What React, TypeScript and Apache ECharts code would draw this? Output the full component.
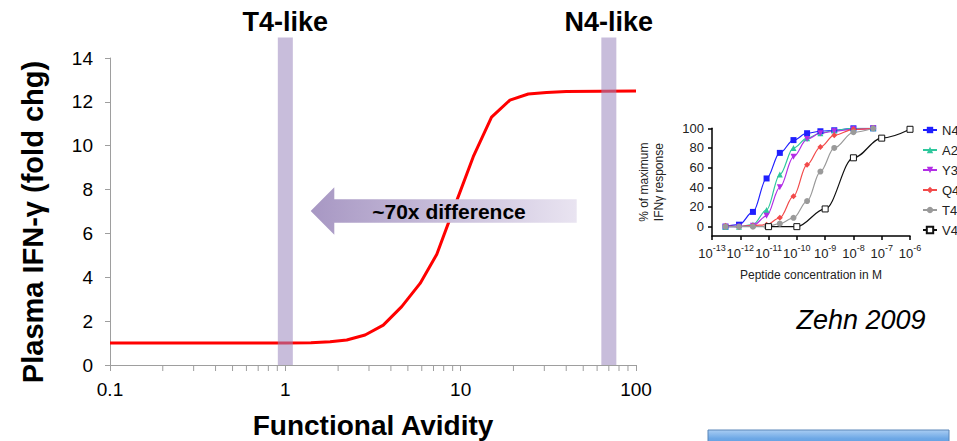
import React, { useEffect, useRef } from 'react';
import * as echarts from 'echarts';

// ---- Main chart data ----
const avidity = [0.1, 1, 1.4, 1.8, 2.24, 2.85, 3.62, 4.61, 5.87, 7.31, 9.2, 11.8, 15.0, 19.1, 24.3, 30.9, 40, 100];
const ifnFold = [1.0, 1.0, 1.02, 1.06, 1.14, 1.37, 1.82, 2.66, 3.72, 5.05, 7.2, 9.5, 11.3, 12.08, 12.36, 12.43, 12.47, 12.5];
const avidityTickLabels = ['0.1', '1', '10', '100'];
const minorAvidityTicks = [0.2, 0.3, 0.4, 0.5, 0.6, 0.7, 0.8, 0.9, 2, 3, 4, 5, 6, 7, 8, 9, 20, 30, 40, 50, 60, 70, 80, 90];
const bandCenters = [1, 70];
const bandLabels = ['T4-like', 'N4-like'];
const arrowLabel = '~70x difference';

// ---- Inset (Zehn 2009) data ----
const peptideConc = [3e-13, 9e-13, 2.8e-12, 8.5e-12, 2.5e-11, 7.6e-11, 2.3e-10, 6.8e-10, 2.1e-9, 1e-8, 5e-8];
const n4 = [0, 2, 15, 49, 75, 88, 95, 97, 98, 100, 100];
const a2 = [0, 0, 2, 17, 53, 80, 90, 95, 98, 100, 100];
const y3 = [0, 0, 1, 11, 40, 71, 89, 95, 97, 99, 100];
const q4 = [1, 0, 1, 2, 9, 31, 63, 81, 93, 99, 100];
const t4 = [0, 0, 0, 0, 3, 9, 26, 56, 80, 96, 100];
const v4Conc = [1e-11, 1e-10, 1e-9, 1e-8, 1e-7, 1e-6];
const v4 = [0, 0, 18, 70, 90, 99];
const insetYTicks = [0, 20, 40, 60, 80, 100];
const peptideNames = ['N4', 'A2', 'Y3', 'Q4', 'T4', 'V4'];

const FONT = "'Liberation Sans', Arial, Helvetica, sans-serif";

function zip(xs: number[], ys: number[]) {
  return xs.map((x, i) => [x, ys[i]]);
}

export default function App() {
  const ref = useRef<HTMLDivElement>(null);
  useEffect(() => {
    if (!ref.current) return;
    const chart = echarts.init(ref.current, null, { renderer: 'svg' });

    const insetSeries = (name: string, xs: number[], ys: number[], color: string, symbol: string, extra: any = {}) => ({
      name,
      type: 'line',
      xAxisIndex: 1,
      yAxisIndex: 1,
      data: zip(xs, ys),
      smooth: 0.35,
      smoothMonotone: 'x',
      symbol,
      symbolSize: 6,
      color,
      lineStyle: { color: extra.lineColor || color, width: 1.2 },
      itemStyle: extra.itemStyle || { color },
      symbolRotate: extra.symbolRotate || 0,
      z: 3,
    });

    const option: any = {
      animation: false,
      textStyle: { fontFamily: FONT },
      grid: [
        { left: 110, top: 58, width: 526, height: 307 },
        { left: 712, top: 128.3, width: 198, height: 107.7 },
      ],
      xAxis: [
        {
          type: 'log', logBase: 10, min: 0.1, max: 100, gridIndex: 0,
          axisLine: { onZero: false, lineStyle: { color: '#9e9e9e', width: 1 } },
          axisTick: { show: true, length: 6, lineStyle: { color: '#9e9e9e' } },
          axisLabel: {
            fontSize: 19, color: '#000', margin: 15, fontFamily: FONT,
            formatter: (v: number) => avidityTickLabels[Math.round(Math.log10(v)) + 1] ?? '',
          },
          splitLine: { show: false },
        },
        {
          type: 'log', logBase: 10, min: 1e-13, max: 1e-6, gridIndex: 1,
          axisLine: { onZero: false, lineStyle: { color: '#000', width: 1.5 } },
          axisTick: { show: true, length: 4, lineStyle: { color: '#000', width: 1.5 } },
          axisLabel: {
            margin: 7,
            formatter: (v: number) => `{b|10}{s|${Math.round(Math.log10(v))}}`,
            rich: {
              b: { fontSize: 13, color: '#222', lineHeight: 17, verticalAlign: 'bottom', fontFamily: FONT },
              s: { fontSize: 9, color: '#222', lineHeight: 10, verticalAlign: 'top', fontFamily: FONT },
            },
          },
          splitLine: { show: false },
          name: 'Peptide concentration in M',
          nameLocation: 'middle',
          nameGap: 33,
          nameTextStyle: { fontSize: 12, color: '#222', fontFamily: FONT },
        },
      ],
      yAxis: [
        {
          type: 'value', min: 0, max: 14, interval: 2, gridIndex: 0,
          axisLine: { show: true, onZero: false, lineStyle: { color: '#9e9e9e', width: 1 } },
          axisTick: { show: true, length: 5, lineStyle: { color: '#9e9e9e' } },
          axisLabel: { fontSize: 19, color: '#000', margin: 17, fontFamily: FONT },
          splitLine: { show: false },
        },
        {
          type: 'value', min: -9.5, max: 100, gridIndex: 1,
          axisLine: { show: true, onZero: false, lineStyle: { color: '#000', width: 1.5 } },
          axisTick: { show: true, length: 4, customValues: insetYTicks, lineStyle: { color: '#000', width: 1.5 } },
          axisLabel: { customValues: insetYTicks, fontSize: 13, color: '#222', margin: 8, fontFamily: FONT },
          splitLine: { show: false },
          name: '% of maximum\nIFNγ response',
          nameLocation: 'middle',
          nameRotate: 90,
          nameGap: 46,
          nameTextStyle: { fontSize: 12, lineHeight: 15, color: '#222', fontFamily: FONT },
        },
      ],
      legend: {
        data: peptideNames,
        orient: 'vertical',
        left: 917,
        top: 118,
        itemWidth: 14,
        itemHeight: 8,
        itemGap: 6,
        textStyle: { fontSize: 13, lineHeight: 14, color: '#222', fontFamily: FONT },
      },
      series: [
        {
          name: 'IFN',
          type: 'line',
          xAxisIndex: 0, yAxisIndex: 0,
          data: zip(avidity, ifnFold),
          symbol: 'none',
          lineStyle: { color: '#ff0000', width: 3 },
          z: 2,
        },
        {
          name: 'minorTicks',
          type: 'custom',
          xAxisIndex: 0, yAxisIndex: 0,
          clip: false,
          silent: true,
          z: 5,
          data: minorAvidityTicks.map((v) => [v, 0]),
          renderItem: (params: any, api: any) => {
            const p = api.coord([api.value(0), 0]);
            return {
              type: 'line',
              shape: { x1: p[0], y1: p[1], x2: p[0], y2: p[1] + 6 },
              style: { stroke: '#9e9e9e', lineWidth: 1 },
            };
          },
        },
        insetSeries('N4', peptideConc, n4, '#1f1fff', 'rect'),
        insetSeries('A2', peptideConc, a2, '#2ec79c', 'triangle'),
        insetSeries('Y3', peptideConc, y3, '#b22ee6', 'triangle', { symbolRotate: 180 }),
        insetSeries('Q4', peptideConc, q4, '#f24a4a', 'diamond'),
        insetSeries('T4', peptideConc, t4, '#9a9a9a', 'circle'),
        insetSeries('V4', v4Conc, v4, '#111111', 'rect', {
          lineColor: '#111111',
          itemStyle: { color: '#ffffff', borderColor: '#111111', borderWidth: 1 },
        }),
      ],
    };

    chart.setOption(option);

    const px = (v: number) => chart.convertToPixel({ xAxisIndex: 0 }, v) as number;
    const y0 = chart.convertToPixel({ yAxisIndex: 0 }, 0) as number;
    const bandTop = 37.5;
    const bandW = 15;

    const graphics: any[] = [];
    bandCenters.forEach((c, i) => {
      const cx = px(c);
      graphics.push({
        type: 'rect', id: 'band' + i, z: 10, silent: true,
        shape: { x: cx - bandW / 2, y: bandTop, width: bandW, height: y0 - bandTop },
        style: { fill: 'rgba(155,135,190,0.55)' },
      });
      graphics.push({
        type: 'text', id: 'bandLabel' + i, z: 10,
        x: cx, y: 22,
        style: { text: bandLabels[i], font: `bold 27px ${FONT}`, fill: '#000', textAlign: 'center', textVerticalAlign: 'middle' },
      });
    });

    // Arrow
    graphics.push({
      type: 'polygon', id: 'arrow', z: 11,
      shape: {
        points: [
          [310.7, 211], [334.3, 187.3], [334.3, 199.3], [576.7, 199.3],
          [576.7, 222.7], [334.3, 222.7], [334.3, 234.7],
        ],
      },
      style: {
        fill: {
          type: 'linear', x: 0, y: 0, x2: 1, y2: 0,
          colorStops: [
            { offset: 0, color: '#a797c3' },
            { offset: 1, color: '#e9e4f1' },
          ],
        },
      },
    });
    graphics.push({
      type: 'text', id: 'arrowText', z: 12,
      x: 449, y: 211.5,
      style: { text: arrowLabel, font: `bold 21px ${FONT}`, fill: '#000', textAlign: 'center', textVerticalAlign: 'middle' },
    });

    // Axis titles
    graphics.push({
      type: 'text', id: 'ytitle', z: 10,
      x: 33, y: 222, rotation: Math.PI / 2,
      style: { text: 'Plasma IFN-γ (fold chg)', font: `bold 29px ${FONT}`, fill: '#000', textAlign: 'center', textVerticalAlign: 'middle' },
    });
    graphics.push({
      type: 'text', id: 'xtitle', z: 10,
      x: 373, y: 425,
      style: { text: 'Functional Avidity', font: `bold 28px ${FONT}`, fill: '#000', textAlign: 'center', textVerticalAlign: 'middle' },
    });
    graphics.push({
      type: 'text', id: 'cite', z: 10,
      x: 861, y: 320,
      style: { text: 'Zehn 2009', font: `italic 27px ${FONT}`, fill: '#000', textAlign: 'center', textVerticalAlign: 'middle' },
    });
    // Blue button at bottom right
    graphics.push({
      type: 'rect', id: 'button', z: 10,
      shape: { x: 708, y: 430, width: 241, height: 24 },
      style: {
        fill: {
          type: 'linear', x: 0, y: 0, x2: 0, y2: 1,
          colorStops: [
            { offset: 0, color: '#a9cdf3' },
            { offset: 0.35, color: '#6ea8e6' },
            { offset: 1, color: '#4a8ad4' },
          ],
        },
        stroke: '#5a86b8',
        lineWidth: 1,
      },
    });

    chart.setOption({ graphic: graphics });

    return () => chart.dispose();
  }, []);

  return (
    <div
      ref={ref}
      style={{ position: 'fixed', left: 0, top: 0, width: 957, height: 441, background: '#fff' }}
    />
  );
}
